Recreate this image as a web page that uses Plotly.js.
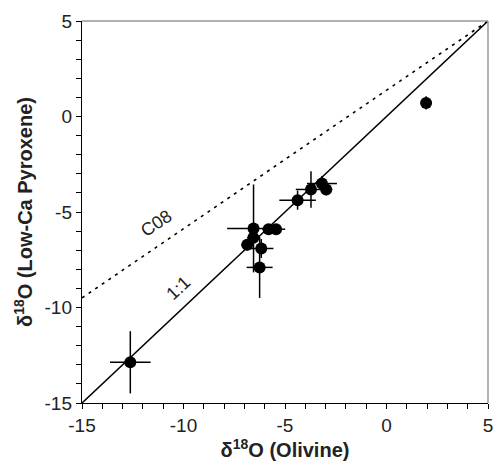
<!DOCTYPE html>
<html>
<head>
<meta charset="utf-8">
<script src="https://cdn.plot.ly/plotly-3.0.1.min.js"></script>
<style>html,body{margin:0;padding:0;background:#fff}#chart{width:495px;height:464px}</style>
</head>
<body>
<div id="chart"></div>
<script>
// Data
var olivine   = [-12.62, -6.55, -5.81, -5.44, -6.86, -6.56, -6.17, -6.25, -4.38, -3.72, -3.18, -2.97, 1.95];
var pyroxene  = [-12.87, -5.86, -5.90, -5.90, -6.72, -6.35, -6.91, -7.90, -4.38, -3.82, -3.51, -3.82, 0.71];
var olivineErr  = [1.0, 1.3, 0.3, 0.45, 0.3, 0.3, 0.6, 0.64, 0.9, 0.75, 0.74, 0.3, 0.2];
var pyroxeneErr = [1.63, 2.3, 0.2, 0.2, 0.3, 0.3, 0.5, 1.6, 0.5, 0.96, 0.4, 0.3, 0.35];
var oneToOneX = [-15, 5];
var oneToOneY = [-15, 5];
var c08X = [-15, 5];
var c08Y = [-9.5, 5];
var xTicks = [-15, -10, -5, 0, 5];
var yTicks = [-15, -10, -5, 0, 5];

var FONT = 'Liberation Sans, Arial, sans-serif';

var traces = [
  {x: oneToOneX, y: oneToOneY, mode: 'lines', line: {color: '#000', width: 1.5}, hoverinfo: 'skip'},
  {x: c08X, y: c08Y, mode: 'lines', line: {color: '#000', width: 1.6, dash: '3px,5px'}, hoverinfo: 'skip'},
  {x: olivine, y: pyroxene, mode: 'markers',
   marker: {color: '#000', size: 12},
   error_x: {type: 'data', array: olivineErr, visible: true, color: '#000', thickness: 1.5, width: 0},
   error_y: {type: 'data', array: pyroxeneErr, visible: true, color: '#000', thickness: 1.5, width: 0}}
];

var axisCommon = {
  range: [-15, 5], tickmode: 'array', showgrid: false, zeroline: false,
  ticks: 'outside', ticklen: 5, tickwidth: 1, tickcolor: '#000',
  showline: true, linecolor: '#000', linewidth: 1.2, mirror: false,
  minor: {dtick: 1, ticks: 'outside', ticklen: 5, tickcolor: '#000', tickwidth: 1, showgrid: false},
  tickfont: {family: FONT, size: 19, color: '#222'},
  automargin: false
};

var layout = {
  width: 495, height: 464,
  margin: {l: 82, r: 7, t: 21, b: 61},
  paper_bgcolor: '#fff', plot_bgcolor: '#fff',
  showlegend: false,
  font: {family: FONT, color: '#222'},
  xaxis: Object.assign({}, axisCommon, {
    tickvals: xTicks, ticktext: xTicks.map(String),
    title: {text: '<b>δ<sup>18</sup>O (Olivine)</b>', font: {size: 20, family: FONT, color: '#222'}, standoff: 2}
  }),
  yaxis: Object.assign({}, axisCommon, {
    tickvals: yTicks, ticktext: yTicks.map(String),
    title: {text: '<b>δ<sup>18</sup>O (Low-Ca Pyroxene)</b>', font: {size: 20, family: FONT, color: '#222'}, standoff: 6}
  }),
  shapes: [
    {type: 'line', xref: 'paper', yref: 'paper', x0: 0, x1: 1, y0: 1, y1: 1, line: {color: '#999', width: 1.5}},
    {type: 'line', xref: 'paper', yref: 'paper', x0: 1, x1: 1, y0: 0, y1: 1, line: {color: '#999', width: 1.5}}
  ],
  annotations: [
    {x: -11.31, y: -5.6, text: 'C08', showarrow: false, textangle: -34, font: {size: 18, color: '#222'}},
    {x: -10.24, y: -8.99, text: '1:1', showarrow: false, textangle: -43, font: {size: 18, color: '#222'}}
  ]
};

Plotly.newPlot('chart', traces, layout, {displayModeBar: false, staticPlot: true});
</script>
</body>
</html>
